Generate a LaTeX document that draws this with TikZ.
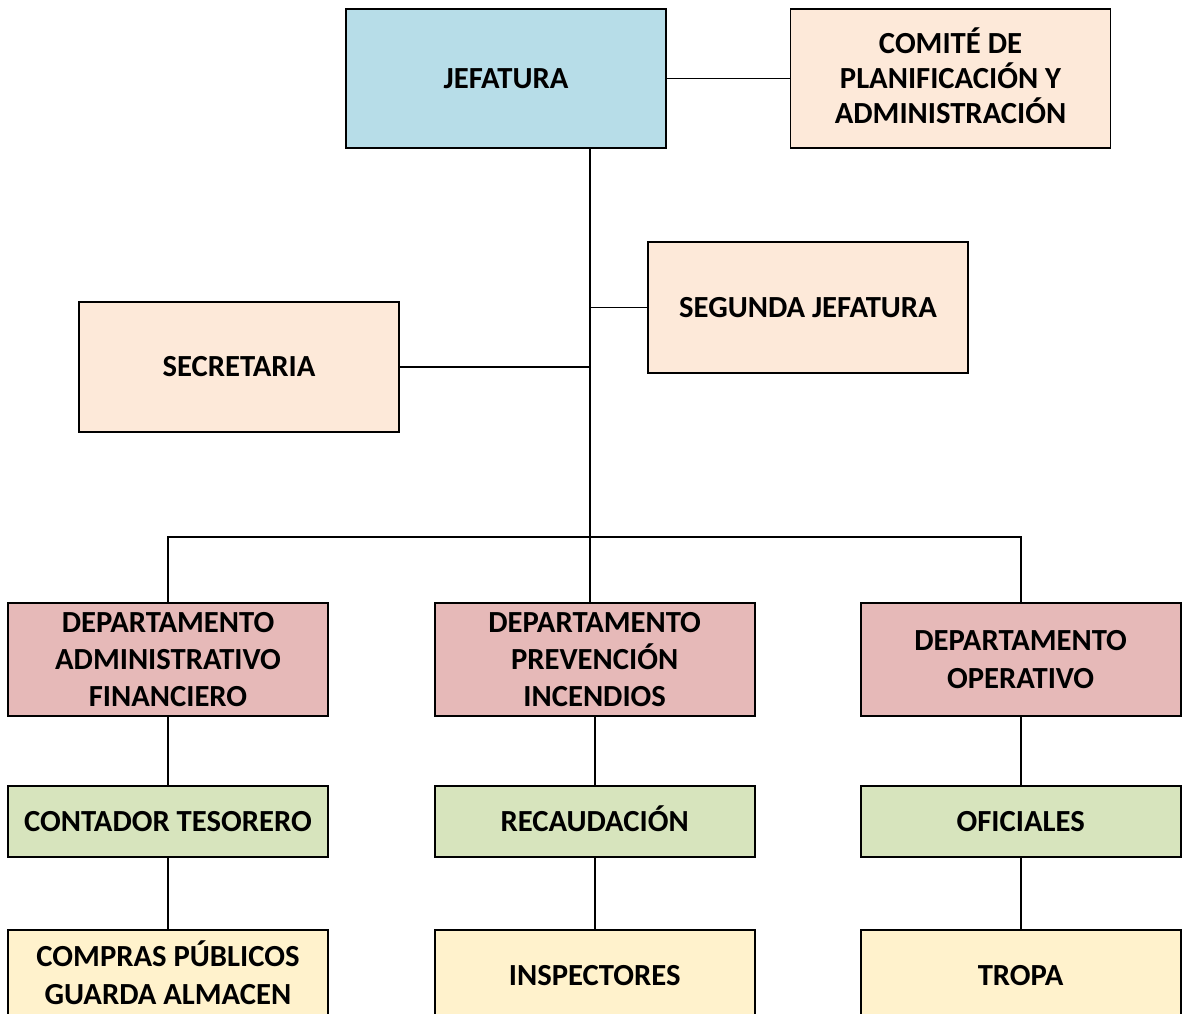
\documentclass[tikz,border=0pt]{standalone}
\usepackage{fontspec}
\setmainfont{Carlito}
\usepackage{tikz}
\usetikzlibrary{positioning}

\definecolor{jefblue}{HTML}{B7DDE8}
\definecolor{staffpeach}{HTML}{FDE9D9}
\definecolor{deptrose}{HTML}{E6B9B8}
\definecolor{unitgreen}{HTML}{D7E4BD}
\definecolor{baseyellow}{HTML}{FFF2CC}

\tikzset{
  orgbox/.style={draw=black, line width=1.4pt, minimum width=240pt,
    align=center, inner sep=2pt,
    font=\fontsize{23}{28}\selectfont\bfseries},
  jefbox/.style={orgbox, fill=jefblue, minimum height=104pt},
  staffbox/.style={orgbox, fill=staffpeach},
  deptbox/.style={orgbox, fill=deptrose, minimum height=85pt},
  unitbox/.style={orgbox, fill=unitgreen, minimum height=53pt},
  basebox/.style={orgbox, fill=baseyellow, minimum height=68pt},
  link/.style={line width=1.4pt}
}

\begin{document}
\begin{tikzpicture}[x=0.75pt, y=-0.75pt]
    \useasboundingbox (0,0) rectangle (1183,1014);
    \clip (0,0) rectangle (1183,1014);

    % top
    \node[jefbox] (jef) at (506,78.5) {JEFATURA};
    \node[staffbox, minimum height=104pt, right=92pt of jef,
        font=\fontsize{23}{26}\selectfont\bfseries] (comite)
        {COMIT\smash{É} DE\\PLANIFICACIÓN Y\\ADMINISTRACIÓN};
    \node[staffbox, minimum height=98pt] (segunda) at (808,307.5) {SEGUNDA JEFATURA};
    \node[staffbox, minimum height=97.5pt] (secret) at (239,367) {SECRETARIA};

    % departamentos
    \node[deptbox] (dadm) at (168,659.5) {DEPARTAMENTO\\ADMINISTRATIVO\\FINANCIERO};
    \node[deptbox, right=78.6pt of dadm] (dprev) {DEPARTAMENTO\\PREVENCIÓN\\INCENDIOS};
    \node[deptbox, right=78.1pt of dprev] (dop) {DEPARTAMENTO\\OPERATIVO};

    \node[unitbox, below=51.1pt of dadm] (cont) {CONTADOR TESORERO};
    \node[unitbox, below=51.1pt of dprev] (recau) {RECAUDACI\smash{Ó}N};
    \node[unitbox, below=51.1pt of dop] (ofic) {OFICIALES};

    \node[basebox, below=53.6pt of cont] (compras) {COMPRAS P\smash{Ú}BLICOS\\GUARDA ALMACEN};
    \node[basebox, below=53.6pt of recau] (inspec) {INSPECTORES};
    \node[basebox, below=53.6pt of ofic] (tropa) {TROPA};

    % lineas
    \coordinate (bus) at (590,537);
    \draw[link] (jef) -- (comite);
    \draw[link] (bus |- jef.south) -- (bus) -- (bus |- dprev.north);
    \draw[link] (segunda.west) -- (segunda.west -| bus);
    \draw[link] (secret.east) -- (secret.east -| bus);
    \draw[link] (dadm.north) |- (bus) -| (dop.north);
    \draw[link] (dadm) -- (cont) -- (compras);
    \draw[link] (dprev) -- (recau) -- (inspec);
    \draw[link] (dop) -- (ofic) -- (tropa);
\end{tikzpicture}
\end{document}
